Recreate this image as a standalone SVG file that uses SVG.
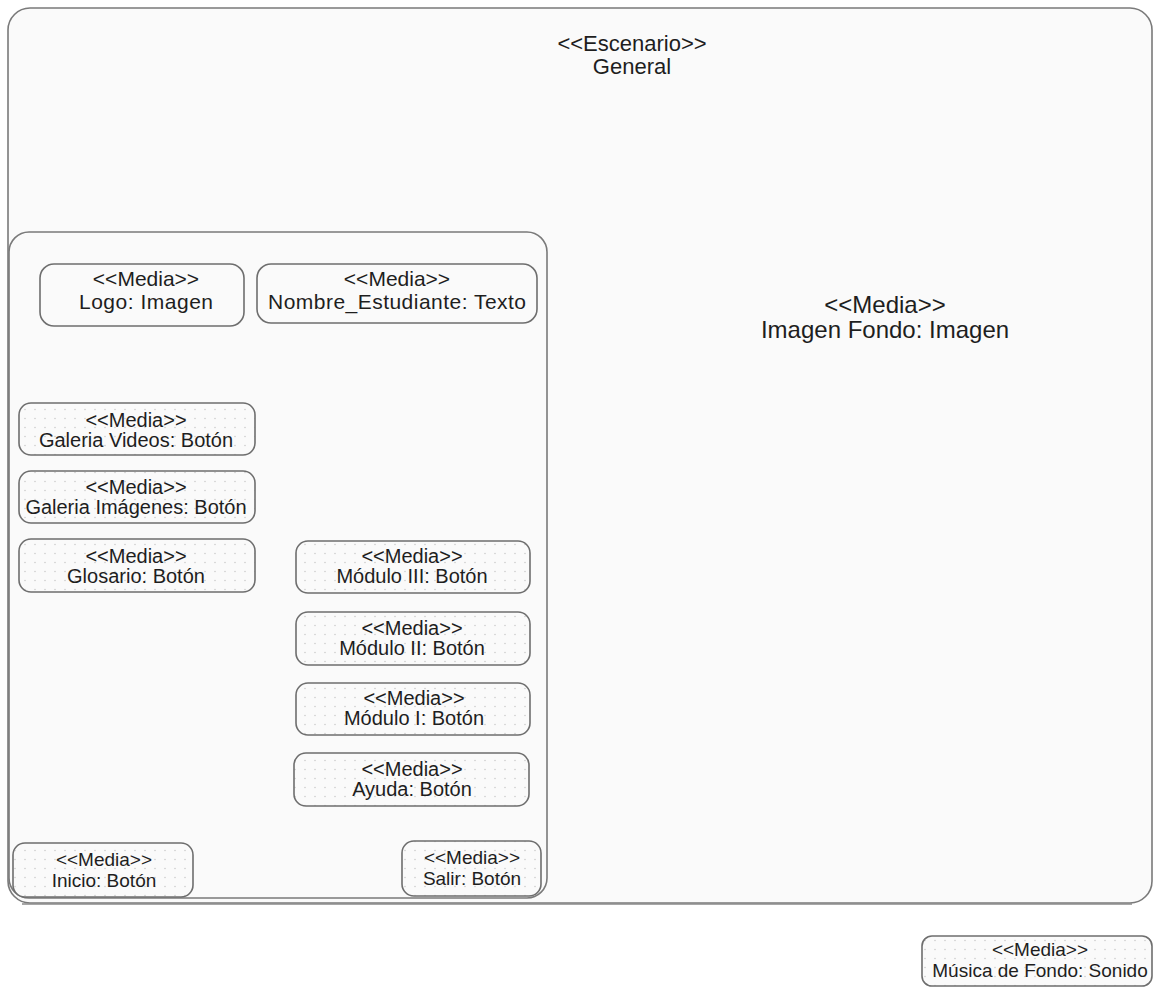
<svg xmlns="http://www.w3.org/2000/svg" width="1153" height="987" viewBox="0 0 1153 987">
  <defs>
    <pattern id="dots" width="10" height="9" patternUnits="userSpaceOnUse">
      <rect width="10" height="9" fill="#fafafa"/>
      <circle cx="5" cy="4.5" r="0.7" fill="#c4c4c4"/>
    </pattern>
    <style>
      .frame { fill: #fafafa; stroke: #7a7a7a; stroke-width: 1.6; }
      .media { fill: #fafafa; stroke: #6e6e6e; stroke-width: 1.6; }
      .btn { fill: url(#dots); stroke: #6e6e6e; stroke-width: 1.6; }
      text { font-family: "Liberation Sans", Arial, sans-serif; fill: #1e1e1e; text-anchor: middle; }
      .t19 { font-size: 19px; }
      .t20 { font-size: 20px; }
      .t21 { font-size: 21px; }
      .t22 { font-size: 22px; }
      .t24 { font-size: 24px; }
    </style>
  </defs>
  <rect width="1153" height="987" fill="#ffffff"/>

  <!-- Scenario frame -->
  <g id="escenario">
    <rect class="frame" x="8" y="8" width="1144" height="895" rx="22" ry="22"/>
    <line x1="22" y1="904" x2="1132" y2="904" stroke="#8a8a8a" stroke-width="1.6"/>
    <text class="t22" x="632" y="51">&lt;&lt;Escenario&gt;&gt;</text>
    <text class="t22" x="632" y="74">General</text>
    <text class="t24" x="885" y="313">&lt;&lt;Media&gt;&gt;</text>
    <text class="t24" x="885" y="338">Imagen Fondo: Imagen</text>
  </g>

  <!-- Inner panel -->
  <g id="panel">
    <rect class="frame" x="9" y="232" width="538" height="666" rx="20" ry="20"/>
  </g>

  <g id="logo">
    <rect class="media" x="40" y="264" width="204" height="62" rx="14"/>
    <text class="t21" x="146" y="286">&lt;&lt;Media&gt;&gt;</text>
    <text class="t21" x="146" y="309" textLength="134" lengthAdjust="spacing">Logo: Imagen</text>
  </g>
  <g id="nombre">
    <rect class="media" x="257" y="264" width="280" height="59" rx="14"/>
    <text class="t21" x="397" y="286">&lt;&lt;Media&gt;&gt;</text>
    <text class="t21" x="397" y="309" textLength="258" lengthAdjust="spacing">Nombre_Estudiante: Texto</text>
  </g>

  <g id="galeria-videos">
    <rect class="btn" x="19" y="403" width="236" height="52" rx="12"/>
    <text class="t20" x="136" y="427">&lt;&lt;Media&gt;&gt;</text>
    <text class="t20" x="136" y="447">Galeria Videos: Botón</text>
  </g>
  <g id="galeria-imagenes">
    <rect class="btn" x="19" y="471" width="236" height="52" rx="12"/>
    <text class="t20" x="136" y="494">&lt;&lt;Media&gt;&gt;</text>
    <text class="t20" x="136" y="514">Galeria Imágenes: Botón</text>
  </g>
  <g id="glosario">
    <rect class="btn" x="19" y="539" width="236" height="53" rx="12"/>
    <text class="t20" x="136" y="563">&lt;&lt;Media&gt;&gt;</text>
    <text class="t20" x="136" y="583">Glosario: Botón</text>
  </g>

  <g id="modulo-3">
    <rect class="btn" x="296" y="541" width="234" height="52" rx="12"/>
    <text class="t20" x="412" y="563">&lt;&lt;Media&gt;&gt;</text>
    <text class="t20" x="412" y="583">Módulo III: Botón</text>
  </g>
  <g id="modulo-2">
    <rect class="btn" x="296" y="612" width="234" height="53" rx="12"/>
    <text class="t20" x="412" y="635">&lt;&lt;Media&gt;&gt;</text>
    <text class="t20" x="412" y="655">Módulo II: Botón</text>
  </g>
  <g id="modulo-1">
    <rect class="btn" x="296" y="683" width="234" height="52" rx="12"/>
    <text class="t20" x="414" y="705">&lt;&lt;Media&gt;&gt;</text>
    <text class="t20" x="414" y="725">Módulo I: Botón</text>
  </g>
  <g id="ayuda">
    <rect class="btn" x="294" y="753" width="235" height="53" rx="12"/>
    <text class="t20" x="412" y="776">&lt;&lt;Media&gt;&gt;</text>
    <text class="t20" x="412" y="796">Ayuda: Botón</text>
  </g>

  <g id="inicio">
    <rect class="btn" x="13" y="843" width="180" height="54" rx="12"/>
    <text class="t19" x="104" y="866">&lt;&lt;Media&gt;&gt;</text>
    <text class="t19" x="104" y="887">Inicio: Botón</text>
  </g>
  <g id="salir">
    <rect class="btn" x="402" y="841" width="139" height="55" rx="12"/>
    <text class="t19" x="472" y="864">&lt;&lt;Media&gt;&gt;</text>
    <text class="t19" x="472" y="885">Salir: Botón</text>
  </g>

  <g id="musica">
    <rect class="btn" x="922" y="936" width="230" height="50" rx="10"/>
    <text class="t19" x="1040" y="956">&lt;&lt;Media&gt;&gt;</text>
    <text class="t19" x="1040" y="977">Música de Fondo: Sonido</text>
  </g>

  <g id="connectors"></g>
</svg>
